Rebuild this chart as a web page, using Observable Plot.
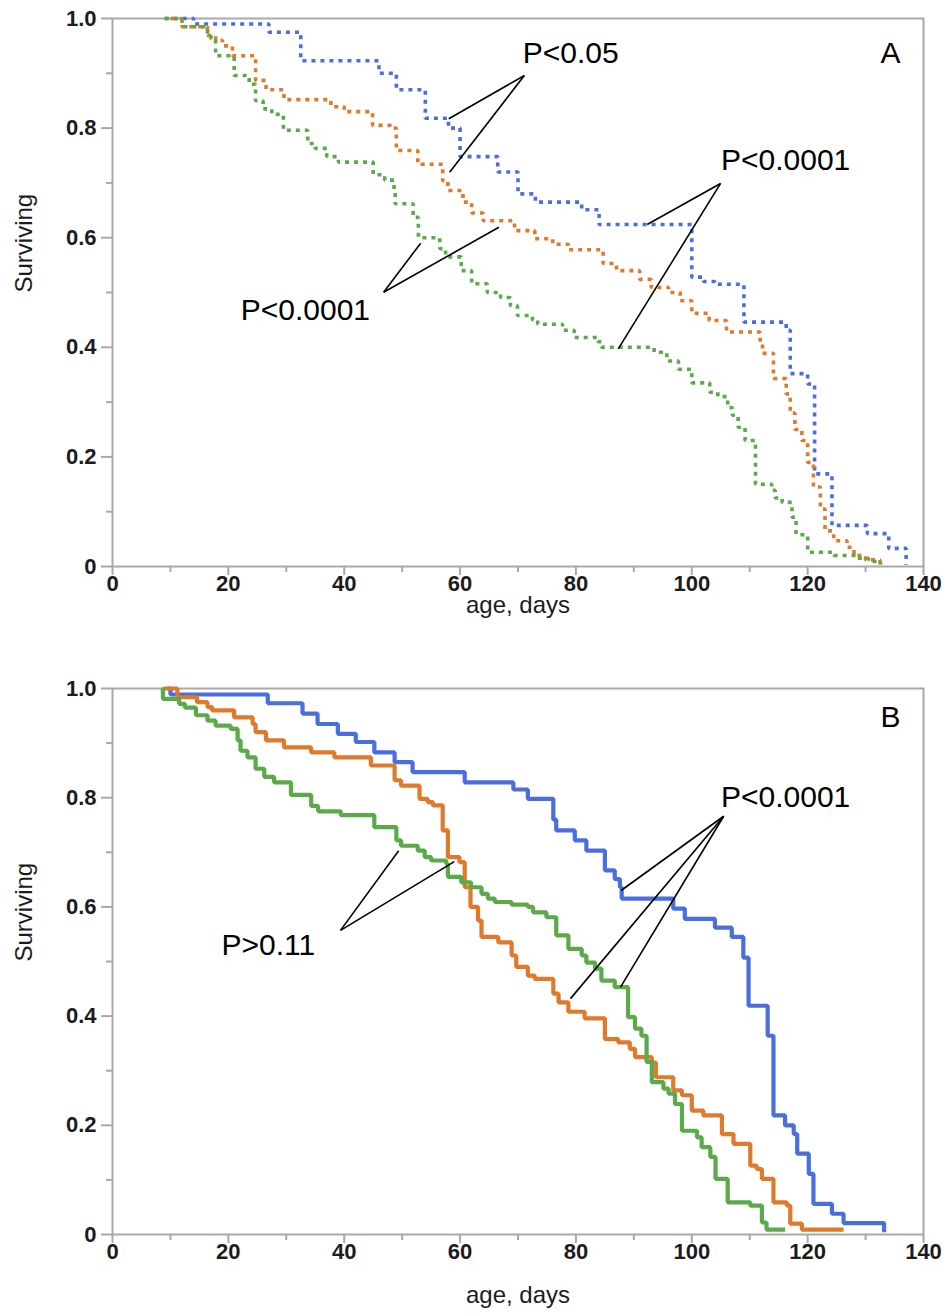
<!DOCTYPE html>
<html><head><meta charset="utf-8">
<script src="https://cdn.jsdelivr.net/npm/d3@7"></script>
<script src="https://cdn.jsdelivr.net/npm/@observablehq/plot@0.6"></script>
<style>
body{margin:0;background:#fff;}
#chart svg{display:block;}
</style></head><body><div id="chart"></div>
<script>
// ---------- series names / colours ----------
const seriesNames = ["group 1", "group 2", "group 3"];
const seriesColors = ["#4A6FDC", "#DF7A2C", "#5BAA4A"];

// ---------- axis ticks ----------
const xTicks = [0, 20, 40, 60, 80, 100, 120, 140];
const xMinorTicks = [10, 30, 50, 70, 90, 110, 130];
const yTicks = [0, 0.2, 0.4, 0.6, 0.8, 1.0];
const yMinorTicks = [0.1, 0.3, 0.5, 0.7, 0.9];

// ---------- Panel A (dotted) : step times (days) and surviving fraction after each step ----------
const tA_blue = [9, 14, 27, 32.5, 46, 49, 54, 58, 60, 66.5, 70, 73, 81, 84, 100, 102, 104, 109, 116.3, 117, 120, 121.2, 124.2, 130.3, 134, 137];
const sA_blue = [1.0, 0.99, 0.975, 0.923, 0.90, 0.87, 0.818, 0.80, 0.748, 0.72, 0.68, 0.665, 0.651, 0.624, 0.528, 0.52, 0.515, 0.446, 0.431, 0.352, 0.333, 0.169, 0.075, 0.06, 0.033, 0.003];

const tA_orange = [10, 12, 16.4, 17.8, 19, 20.7, 24.7, 26.5, 29.6, 37.7, 40, 44.9, 48, 49, 52.7, 57, 57.9, 60.5, 62, 64, 69.4, 72.9, 76, 78.7, 84.7, 87, 91, 93, 96, 98, 100, 103, 106, 111.8, 112.2, 114.1, 116.3, 117, 117.8, 119, 120, 121, 122.2, 123, 124.5, 126.8, 128, 130, 132.5];
const sA_orange = [1.0, 0.985, 0.969, 0.96, 0.95, 0.932, 0.887, 0.87, 0.852, 0.839, 0.83, 0.805, 0.80, 0.759, 0.734, 0.704, 0.686, 0.665, 0.645, 0.631, 0.613, 0.598, 0.588, 0.578, 0.553, 0.54, 0.524, 0.509, 0.50, 0.485, 0.462, 0.449, 0.428, 0.407, 0.389, 0.343, 0.315, 0.28, 0.25, 0.23, 0.19, 0.145, 0.105, 0.065, 0.047, 0.035, 0.02, 0.012, 0.003];

const tA_green = [9, 12, 16.4, 17, 17.8, 21, 23.6, 24.7, 26, 27.5, 29.5, 33.7, 35, 37, 39, 45, 47, 48.6, 48.8, 51.9, 52.8, 56.5, 57.5, 60.2, 62, 64.7, 67, 68.7, 69.9, 72.5, 73.4, 77.7, 79.7, 83.8, 84.4, 93.5, 95.7, 97.7, 100, 103.1, 104.5, 106.2, 107, 108, 109.2, 111, 113.8, 114.4, 115.6, 117.3, 118, 120, 124.5, 128.6, 130.5, 132.6];
const sA_green = [1.0, 0.985, 0.972, 0.963, 0.932, 0.896, 0.88, 0.85, 0.835, 0.825, 0.796, 0.772, 0.763, 0.748, 0.738, 0.715, 0.705, 0.685, 0.662, 0.637, 0.60, 0.58, 0.565, 0.54, 0.516, 0.50, 0.491, 0.476, 0.458, 0.45, 0.442, 0.431, 0.418, 0.41, 0.40, 0.391, 0.375, 0.36, 0.335, 0.318, 0.31, 0.29, 0.276, 0.254, 0.23, 0.15, 0.139, 0.125, 0.117, 0.09, 0.058, 0.026, 0.02, 0.015, 0.009, 0.003];

// ---------- Panel B (solid) ----------
const tB_blue = [9.5, 10, 26.8, 32.8, 35.4, 38.9, 42, 45.2, 48.7, 51.8, 60.8, 69.2, 71.7, 76.1, 76.6, 79.8, 81.8, 85, 86.7, 87.6, 87.9, 96.8, 98.8, 104, 106.9, 108.9, 109.8, 113.1, 114.1, 116.1, 117.6, 118.2, 120.2, 121, 124.2, 126.2, 133.2];
const sB_blue = [1.0, 0.989, 0.973, 0.954, 0.935, 0.917, 0.902, 0.883, 0.865, 0.847, 0.828, 0.815, 0.798, 0.76, 0.74, 0.722, 0.703, 0.667, 0.651, 0.636, 0.615, 0.597, 0.578, 0.562, 0.545, 0.507, 0.419, 0.364, 0.218, 0.2, 0.184, 0.148, 0.111, 0.056, 0.038, 0.021, 0.004];

const tB_orange = [8.9, 11.2, 14.6, 16.4, 17.2, 21, 24.2, 24.7, 26.5, 29.6, 34.3, 38.3, 44.6, 48.7, 49.8, 53, 54.4, 55.3, 57, 57.9, 59.9, 60.8, 61.8, 63.1, 63.7, 66.6, 68.9, 69.7, 71.7, 72.9, 76.1, 77, 78.7, 81.5, 85, 87.3, 89.3, 90.2, 93.1, 93.8, 96.8, 98.3, 100, 102, 105.2, 107.2, 110.1, 111.2, 112.1, 114.1, 116.4, 117, 119, 126.2];
const sB_orange = [1.0, 0.984, 0.975, 0.966, 0.96, 0.947, 0.935, 0.92, 0.905, 0.892, 0.883, 0.874, 0.859, 0.832, 0.822, 0.798, 0.792, 0.786, 0.74, 0.691, 0.682, 0.636, 0.60, 0.575, 0.545, 0.535, 0.511, 0.49, 0.474, 0.468, 0.441, 0.425, 0.408, 0.396, 0.358, 0.352, 0.34, 0.325, 0.315, 0.288, 0.264, 0.255, 0.227, 0.218, 0.184, 0.166, 0.126, 0.12, 0.102, 0.059, 0.053, 0.02, 0.009, 0.009];

const tB_green = [8.6, 8.7, 11.5, 12.5, 14.4, 16.4, 17.8, 20.4, 21.6, 22.1, 23.3, 24.7, 26.2, 27.9, 30.8, 34.3, 35.5, 39.4, 45.2, 49, 49.8, 52.7, 53.9, 55, 57.6, 57.9, 60.2, 61.9, 63.7, 64.8, 66, 68.9, 71.7, 72.6, 74.9, 76.6, 78.7, 81, 81.8, 83.3, 84.4, 86.7, 89, 90.2, 91.3, 92.2, 93.1, 95.1, 96, 97.1, 98.3, 100.9, 101.7, 103.2, 104.1, 106.2, 110.1, 112.1, 112.9, 116.1];
const sB_green = [1.0, 0.981, 0.972, 0.965, 0.951, 0.941, 0.932, 0.926, 0.905, 0.886, 0.874, 0.853, 0.838, 0.828, 0.805, 0.785, 0.775, 0.768, 0.746, 0.722, 0.712, 0.703, 0.691, 0.685, 0.679, 0.655, 0.645, 0.636, 0.624, 0.615, 0.609, 0.604, 0.60, 0.59, 0.581, 0.548, 0.523, 0.511, 0.498, 0.487, 0.465, 0.453, 0.398, 0.377, 0.364, 0.316, 0.279, 0.267, 0.258, 0.239, 0.19, 0.178, 0.16, 0.142, 0.102, 0.059, 0.053, 0.022, 0.009, 0.009];

// ---------- annotations (data coordinates: days, surviving) ----------
const annA_text = ["P<0.05", "P<0.0001", "P<0.0001", "A"];
const annA_t = [79.1, 116.2, 33.3, 134.3];
const annA_v = [0.937, 0.741, 0.467, 0.937];
const leadA_t1 = [71.1, 71.1, 104.97, 104.97, 46.8, 46.8];
const leadA_v1 = [0.896, 0.896, 0.699, 0.699, 0.5005, 0.5005];
const leadA_t2 = [58.05, 58.2, 92.3, 87.3, 53.2, 66.7];
const leadA_v2 = [0.817, 0.7195, 0.624, 0.397, 0.59, 0.619];

const annB_text = ["P<0.0001", "P>0.11", "B"];
const annB_t = [116.2, 26.9, 134.3];
const annB_v = [0.80, 0.529, 0.947];
const leadB_t1 = [105.5, 105.5, 105.5, 39.36, 39.36];
const leadB_v1 = [0.766, 0.766, 0.766, 0.557, 0.557];
const leadB_t2 = [87.8, 79.06, 87.7, 49.4, 59.0];
const leadB_v2 = [0.63, 0.432, 0.453, 0.703, 0.683];

// ---------- helpers ----------
function rows(name, ts, vs) {
  const n = Math.min(ts.length, vs.length);
  return d3.range(n).map(i => ({s: name, t: ts[i], v: vs[i]}));
}
function annRows(texts, ts, vs) {
  return texts.map((txt, i) => ({txt, t: ts[i], v: vs[i]}));
}
function leadRows(t1, v1, t2, v2) {
  return t1.map((_, i) => ({t1: t1[i], v1: v1[i], t2: t2[i], v2: v2[i]}));
}

const axisGray = "#a9a9a9";
const tickFont = "'Liberation Sans',Arial,Helvetica,sans-serif";
const annFont = "'Liberation Sans',Arial,Helvetica,sans-serif";

function panel({data, dotted, height, marginTop, marginBottom, titleDy, ann, leads}) {
  return Plot.plot({
    width: 949,
    height,
    marginLeft: 112,
    marginRight: 26,
    marginTop,
    marginBottom,
    x: {domain: [0, 140]},
    y: {domain: [0, 1]},
    color: {type: "ordinal", domain: seriesNames, range: seriesColors},
    style: {background: "white", overflow: "visible"},
    marks: [
      Plot.frame({stroke: axisGray, strokeWidth: 2}),
      Plot.axisX(xMinorTicks, {tickSize: 6, tickFormat: () => "", stroke: axisGray, strokeWidth: 2, label: null}),
      Plot.axisX(xTicks, {tickSize: 9, tickPadding: 0, stroke: axisGray, strokeWidth: 2, fill: "#1c1c1c",
        fontSize: 22, fontWeight: "bold", fontFamily: tickFont, label: null, tickFormat: d => String(d)}),
      Plot.axisY(yMinorTicks, {tickSize: 6, tickFormat: () => "", stroke: axisGray, strokeWidth: 2, label: null}),
      Plot.axisY(yTicks, {tickSize: 11, tickPadding: 5, stroke: axisGray, strokeWidth: 2, fill: "#1c1c1c",
        fontSize: 22, fontWeight: "bold", fontFamily: tickFont, label: null,
        tickFormat: d => d === 0 ? "0" : d.toFixed(1)}),
      Plot.text(["Surviving"], {frameAnchor: "left", dx: -88, rotate: -90, fontSize: 24,
        fontFamily: tickFont, fill: "#1c1c1c"}),
      Plot.text(["age, days"], {frameAnchor: "bottom", dy: titleDy, fontSize: 24,
        fontFamily: tickFont, fill: "#1c1c1c"}),
      Plot.line(data, {x: "t", y: "v", z: "s", stroke: "s", curve: "step-after",
        strokeWidth: dotted ? 3.6 : 4.2,
        strokeDasharray: dotted ? "4,5" : null,
        strokeLinecap: "butt", strokeLinejoin: "miter"}),
      Plot.link(leads, {x1: "t1", y1: "v1", x2: "t2", y2: "v2", stroke: "black", strokeWidth: 1.6}),
      Plot.text(ann, {x: "t", y: "v", text: "txt", fontSize: 30, fontFamily: annFont, fill: "black"})
    ]
  });
}

const dataA = [
  ...rows(seriesNames[0], tA_blue, sA_blue),
  ...rows(seriesNames[1], tA_orange, sA_orange),
  ...rows(seriesNames[2], tA_green, sA_green)
];
const dataB = [
  ...rows(seriesNames[0], tB_blue, sB_blue),
  ...rows(seriesNames[1], tB_orange, sB_orange),
  ...rows(seriesNames[2], tB_green, sB_green)
];

const chart = document.getElementById("chart");
chart.append(panel({
  data: dataA, dotted: true, height: 650, marginTop: 18, marginBottom: 84, titleDy: 46,
  ann: annRows(annA_text, annA_t, annA_v),
  leads: leadRows(leadA_t1, leadA_v1, leadA_t2, leadA_v2)
}));
chart.append(panel({
  data: dataB, dotted: false, height: 666, marginTop: 38, marginBottom: 82, titleDy: 68,
  ann: annRows(annB_text, annB_t, annB_v),
  leads: leadRows(leadB_t1, leadB_v1, leadB_t2, leadB_v2)
}));
</script>
</body></html>
